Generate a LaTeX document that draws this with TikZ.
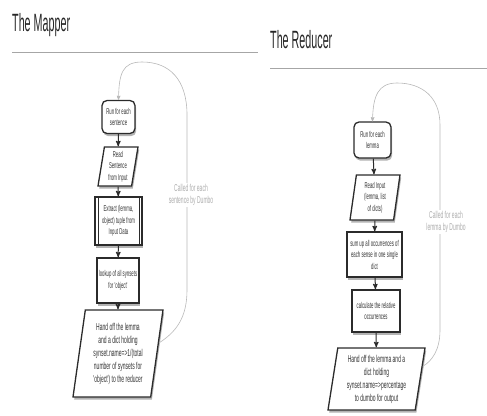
\documentclass[tikz,border=0pt]{standalone}
\usepackage{fontspec}
\setmainfont{Liberation Sans}
\newfontfamily\boxfont[FakeStretch=0.5]{Liberation Sans}
\newfontfamily\headfont[FakeStretch=0.43]{Liberation Sans}
\usetikzlibrary{calc}
\usetikzlibrary{arrows}
\usetikzlibrary{shapes.geometric,shadows}
\usepackage{xcolor}
\definecolor{boxline}{HTML}{2B2B2B}
\definecolor{boxtext}{HTML}{333333}

\begin{document}
\begin{tikzpicture}[x=1pt,y=-1pt,
 stepbox/.style={draw=boxline, line width=1.3pt, fill=white, text=boxtext, align=center, inner sep=1pt,
   font=\boxfont\fontsize{8.5}{11.5}\selectfont,
   drop shadow={opacity=.6, shadow xshift=1.2pt, shadow yshift=-2.6pt}},
 startbox/.style={stepbox, rounded corners=5pt},
 iobox/.style={stepbox, trapezium, trapezium left angle=79, trapezium right angle=101, trapezium stretches body},
 procbox/.style={stepbox, path picture={
   \draw[boxline, line width=.8pt] ([xshift=3pt]path picture bounding box.north west) -- ([xshift=3pt]path picture bounding box.south west)
     ([xshift=-3pt]path picture bounding box.north east) -- ([xshift=-3pt]path picture bounding box.south east);}},
 bigtext/.style={font=\boxfont\fontsize{10}{13}\selectfont},
 flow/.style={boxline, line width=1pt, ->, >=stealth'},
 loopline/.style={black!28, line width=.6pt, ->, >=stealth'},
 note/.style={fill=white, text=black!32, align=center, inner sep=1pt, font=\boxfont\fontsize{10}{12}\selectfont},
 heading/.style={anchor=base west, inner sep=0pt, text=black!85, font=\headfont\fontsize{25}{28}\selectfont},
 rule/.style={black!35, line width=.8pt}]
\useasboundingbox (0,0) rectangle (487,415);

\node[heading] (mapTitle) at (12,31.5) {The Mapper};
\node[heading] (redTitle) at (270,48) {The Reducer};
\draw[rule] (12,52) -- (258,52);
\draw[rule] (270,68) -- (487,68);

\node[startbox, minimum width=33, minimum height=33] (runS) at (118.5,117) {Run for each\\sentence};
\node[iobox, minimum width=40, minimum height=39] (readS) at (118,166.5) {Read\\Sentence\\from Input};
\node[procbox, minimum width=47, minimum height=48] (extract) at (118.5,221) {Extract (lemma,\\object) tuple from\\Input Data};
\node[stepbox, minimum width=42, minimum height=45] (lookup) at (118,280.5) {lookup of all synsets\\for 'object'};
\node[iobox, bigtext, minimum width=90, minimum height=87] (handM) at (118,353.5) {Hand off the lemma\\and a dict holding\\synset.name=>1/(total\\number of synsets for\\'object') to the reducer};

\node[startbox, minimum width=37, minimum height=36] (runL) at (372.5,140) {Run for each\\lemma};
\node[iobox, minimum width=50, minimum height=45] (readL) at (375,197.5) {Read Input\\(lemma, list\\of dicts)};
\node[stepbox, minimum width=55, minimum height=45] (sumup) at (374.5,254.5) {sum up all occurrences of\\each sense in one single\\dict};
\node[stepbox, minimum width=48, minimum height=42] (relocc) at (376,311) {calculate the relative\\occurrences};
\node[iobox, bigtext, minimum width=97, minimum height=62] (handR) at (376.5,379) {Hand off the lemma and a\\dict holding\\synset.name=>percentage\\to dumbo for output};

\foreach \a/\b in {runS/readS, readS/extract, extract/lookup, lookup/handM, runL/readL, readL/sumup, sumup/relocc, relocc/handR}
 \draw[flow] (\a) -- (\b);

\coordinate (mapBack) at ($(handM.top right corner)!.38!(handM.bottom right corner)$);
\coordinate (redBack) at ($(handR.top right corner)!.3!(handR.bottom right corner)$);
\draw[loopline] (mapBack) .. controls (176,332) and (187,318) .. (187,290) -- (187,115)
  .. controls (187,80) and (170,62) .. (142,62) .. controls (122,62) and (119,74) .. (runS.north);
\draw[loopline] (redBack) .. controls (432,361) and (440,350) .. (440,330) -- (440,125)
  .. controls (440,97) and (422,83) .. (397,83) .. controls (378,83) and (373,96) .. (runL.north);

\node[note] (callM) at (191,195) {Called for each\\sentence by Dumbo};
\node[note] (callR) at (446,222) {Called for each\\lemma by Dumbo};
\end{tikzpicture}
\end{document}
